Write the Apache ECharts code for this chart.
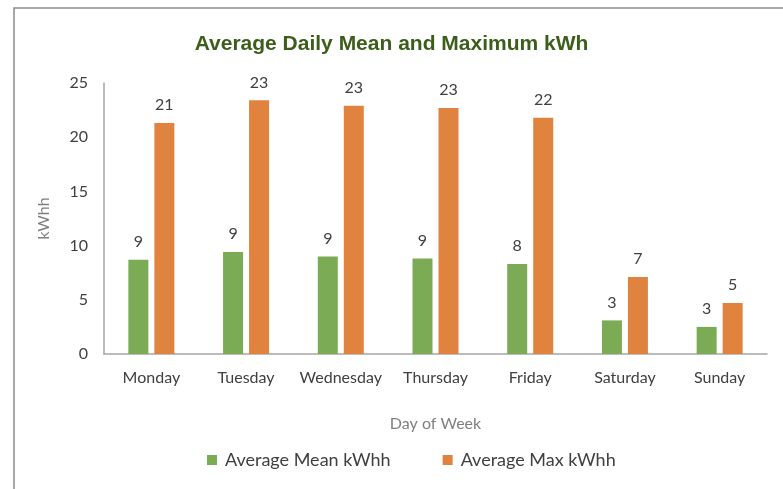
<!DOCTYPE html>
<html>
<head>
<meta charset="utf-8">
<script src="https://cdn.jsdelivr.net/npm/echarts@6/dist/echarts.min.js"></script>
<style>
  html, body { margin: 0; padding: 0; background: #fff; }
  #chart { width: 783px; height: 489px; }
</style>
</head>
<body>
<div id="chart"></div>
<script>
  // data
  var days = ['Monday', 'Tuesday', 'Wednesday', 'Thursday', 'Friday', 'Saturday', 'Sunday'];
  var meanKwh = [8.7, 9.4, 9.0, 8.8, 8.3, 3.1, 2.5];
  var maxKwh = [21.3, 23.4, 22.9, 22.7, 21.8, 7.1, 4.7];

  var font = 'Lato, "Open Sans", sans-serif';
  var chart = echarts.init(document.getElementById('chart'));
  chart.setOption({
    animation: false,
    title: {
      text: 'Average Daily Mean and Maximum kWh',
      left: 'center',
      top: 29,
      textStyle: { color: '#3B5E1A', fontSize: 21, fontWeight: 'bold', fontFamily: 'Arial, "Liberation Sans", sans-serif' }
    },
    legend: {
      bottom: 15,
      left: 202,
      itemWidth: 10,
      itemHeight: 10,
      itemGap: 52,
      icon: 'rect',
      textStyle: { color: '#404040', fontSize: 18, fontFamily: font, padding: [0, 0, 0, 3] }
    },
    graphic: [{
      type: 'polyline',
      shape: { points: [[14, 489], [14, 8], [783, 8]] },
      style: { stroke: '#8c8c8c', lineWidth: 1.5, fill: null }
    }],
    grid: { left: 104, right: 16, top: 83, bottom: 135 },
    xAxis: {
      type: 'category',
      data: days,
      name: 'Day of Week',
      nameLocation: 'middle',
      nameGap: 62,
      nameTextStyle: { color: '#7f7f7f', fontSize: 16, fontFamily: font },
      axisLine: { lineStyle: { color: '#a6a6a6', width: 1.5 } },
      axisTick: { show: false },
      axisLabel: { color: '#404040', fontSize: 16, fontFamily: font, margin: 16, interval: 0 }
    },
    yAxis: {
      type: 'value',
      min: 0,
      max: 25,
      interval: 5,
      name: 'kWhh',
      nameLocation: 'middle',
      nameGap: 52,
      nameTextStyle: { color: '#7f7f7f', fontSize: 16, fontFamily: font },
      axisLine: { show: true, lineStyle: { color: '#a6a6a6', width: 1.5 } },
      axisTick: { show: false },
      splitLine: { show: false },
      axisLabel: { color: '#404040', fontSize: 16, fontFamily: font, margin: 16 }
    },
    series: [{
      name: 'Average Mean kWhh',
      type: 'bar',
      data: meanKwh,
      barWidth: 20,
      barGap: '30%',
      itemStyle: { color: '#7CAB55' },
      label: {
        show: true, position: 'top', distance: 10,
        color: '#404040', fontSize: 16, fontFamily: font,
        formatter: function (p) { return Math.round(p.value); }
      }
    }, {
      name: 'Average Max kWhh',
      type: 'bar',
      data: maxKwh,
      barWidth: 20,
      barGap: '30%',
      itemStyle: { color: '#E0833F' },
      label: {
        show: true, position: 'top', distance: 10,
        color: '#404040', fontSize: 16, fontFamily: font,
        formatter: function (p) { return Math.round(p.value); }
      }
    }]
  });
</script>
</body>
</html>
